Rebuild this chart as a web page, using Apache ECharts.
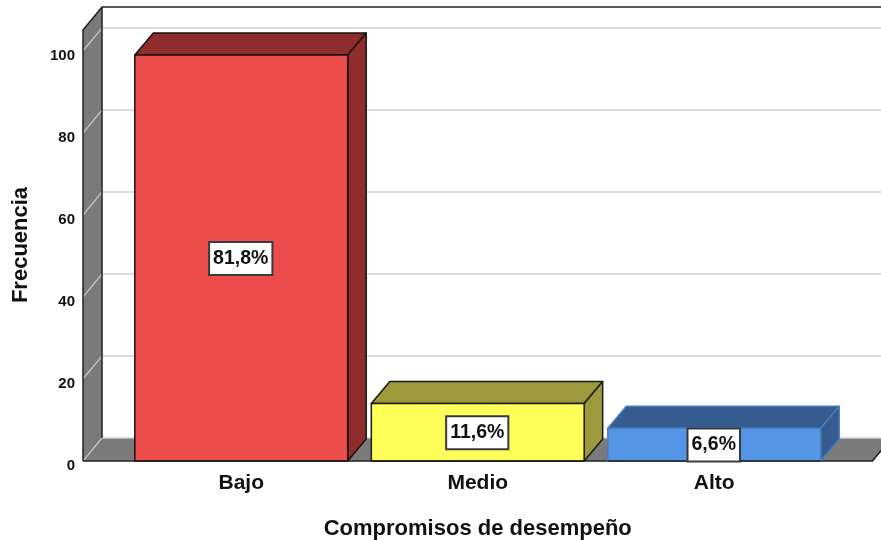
<!DOCTYPE html>
<html>
<head>
<meta charset="utf-8">
<style>
  html, body { margin: 0; padding: 0; background: #fff; overflow: hidden; }
  #chart { width: 881px; height: 540px; }
</style>
</head>
<body>
<div id="chart"></div>
<script src="https://cdn.jsdelivr.net/npm/echarts@6/dist/echarts.min.js"></script>
<script>
const categories = ['Bajo', 'Medio', 'Alto']
const frequencies = [99, 14, 8]
const percentLabels = ['81,8%', '11,6%', '6,6%']
const yTicks = [0, 20, 40, 60, 80, 100]

// colores de cada barra
const frontColors = ['#ee4d4d', '#ffff5a', '#5595e6']
const sideColors = ['#8f2d2d', '#9c9a3c', '#345c90']
const edgeColors = ['#1a1010', '#1a1a08', '#4a7cb8']

const fontFamily = '"Liberation Sans", Arial, sans-serif'
const wallDepth = [19, 23] // profundidad de paredes
const barDepth = [18.5, 22] // profundidad de barras

// paredes y suelo, salen del rectangulo del grid
function renderWalls(params, api) {
  const cs = params.coordSys
  const left = cs.x - 40
  const right = cs.x + cs.width + 40
  const [dx, dy] = wallDepth
  const floorY = api.coord([0, 0])[1]
  const wallTop = floorY - 431
  const children = [
    { type: 'polygon', shape: { points: [[left, wallTop], [left + dx, wallTop - dy], [left + dx, floorY - dy], [left, floorY]] }, style: { fill: '#7a7a7a' } },
    { type: 'polygon', shape: { points: [[left, floorY], [left + dx, floorY - dy], [right + dx, floorY - dy], [right, floorY]] }, style: { fill: '#7a7a7a' } }
  ]
  yTicks.forEach(t => {
    const y = api.coord([0, t])[1]
    children.push({ type: 'line', shape: { x1: left, y1: y, x2: left + dx, y2: y - dy }, style: { stroke: '#c4c4c4', lineWidth: 1.2 } })
    children.push({ type: 'line', shape: { x1: left + dx, y1: y - dy, x2: right + dx, y2: y - dy }, style: { stroke: '#cfcfcf', lineWidth: 1.5 } })
  })
  children.push({ type: 'polyline', shape: { points: [[left, floorY], [left, wallTop], [left + dx, wallTop - dy], [right + dx, wallTop - dy]] }, style: { fill: 'none', stroke: '#222', lineWidth: 1.5 } })
  children.push({ type: 'line', shape: { x1: left + dx, y1: wallTop - dy, x2: left + dx, y2: floorY - dy }, style: { stroke: '#222', lineWidth: 1.5 } })
  children.push({ type: 'polyline', shape: { points: [[left, floorY], [right, floorY], [right + dx, floorY - dy]] }, style: { fill: 'none', stroke: '#222', lineWidth: 1.5 } })
  return { type: 'group', children }
}

function renderBar(params, api) {
  const i = api.value(0)
  const top = api.coord([i, api.value(1)])
  const base = api.coord([i, 0])
  const w = api.size([1, 0])[0] * 0.9
  const x0 = top[0] - w / 2
  const x1 = top[0] + w / 2
  const [dx, dy] = barDepth
  const edge = { stroke: edgeColors[i], lineWidth: 1.5, lineJoin: 'round' }
  return {
    type: 'group',
    children: [
      { type: 'polygon', shape: { points: [[x0, top[1]], [x0 + dx, top[1] - dy], [x1 + dx, top[1] - dy], [x1, top[1]]] }, style: { fill: sideColors[i], ...edge } },
      { type: 'polygon', shape: { points: [[x1, top[1]], [x1 + dx, top[1] - dy], [x1 + dx, base[1] - dy], [x1, base[1]]] }, style: { fill: sideColors[i], ...edge } },
      { type: 'rect', shape: { x: x0, y: top[1], width: w, height: base[1] - top[1] }, style: { fill: frontColors[i], ...edge } },
      { type: 'line', shape: { x1: x0, y1: base[1], x2: x1, y2: base[1] }, style: { stroke: '#222', lineWidth: 1.5 } },
      {
        type: 'text',
        x: top[0] - 0.5,
        y: (top[1] + base[1]) / 2 + 0.5,
        style: {
          text: percentLabels[i],
          font: 'bold 19.5px ' + fontFamily,
          fill: '#111',
          align: 'center',
          verticalAlign: 'middle',
          backgroundColor: '#fff',
          borderColor: '#3a3a3a',
          borderWidth: 2,
          padding: [6, 3, 5, 3]
        }
      }
    ]
  }
}

const chart = echarts.init(document.getElementById('chart'), null, { renderer: 'canvas' })
chart.setOption({
  animation: false,
  backgroundColor: '#fff',
  grid: { left: 123, top: 51, width: 709.5, height: 410, outerBoundsMode: 'none' },
  xAxis: {
    type: 'category',
    data: categories,
    axisLine: { show: false },
    axisTick: { show: false },
    axisLabel: { color: '#111', fontFamily, fontWeight: 'bold', fontSize: 21, margin: 12 },
    name: 'Compromisos de desempeño',
    nameLocation: 'middle',
    nameGap: 57,
    nameTextStyle: { color: '#111', fontFamily, fontWeight: 'bold', fontSize: 22 }
  },
  yAxis: {
    type: 'value',
    min: 0,
    max: 100,
    interval: 20,
    axisLine: { show: false },
    axisTick: { show: false },
    splitLine: { show: false },
    axisLabel: { color: '#111', fontFamily, fontWeight: 'bold', fontSize: 15, margin: 48, verticalAlign: 'top', lineHeight: 9 },
    name: 'Frecuencia',
    nameLocation: 'middle',
    nameGap: 91,
    nameTextStyle: { color: '#111', fontFamily, fontWeight: 'bold', fontSize: 22, padding: [0, 0, 0, 22] }
  },
  series: [
    { type: 'custom', z: 1, silent: true, clip: false, data: [[0, 0]], renderItem: renderWalls },
    { type: 'custom', z: 2, clip: false, encode: { x: 0, y: 1 }, data: frequencies.map((v, i) => [i, v]), renderItem: renderBar }
  ]
})
</script>
</body>
</html>
